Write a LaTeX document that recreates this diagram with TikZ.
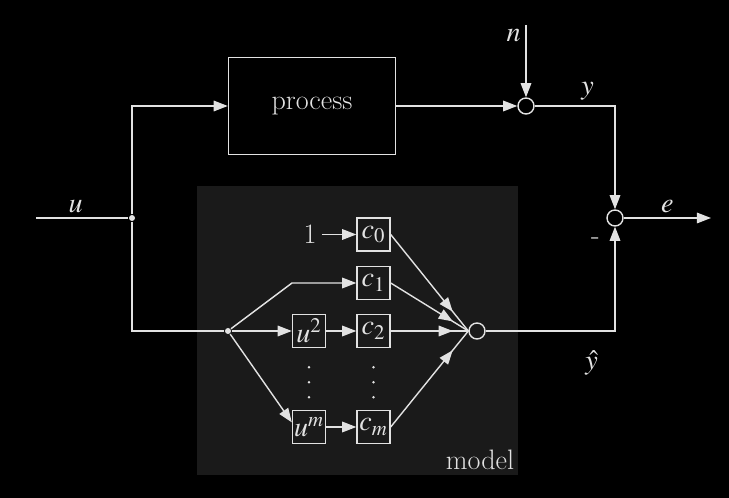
\documentclass[tikz,border=0pt]{standalone}
\usepackage{mathptmx}
\usetikzlibrary{arrows.meta,decorations.markings}
\definecolor{fg}{HTML}{E2E2E2}
\definecolor{modelbg}{HTML}{1A1A1A}
\tikzset{midarrow/.style={postaction={decorate},decoration={markings,mark=at position 0.8 with {\arrow{Triangle[length=10pt,width=7.5pt]}}}}}

\begin{document}
\begin{tikzpicture}[auto, color=fg, line width=1pt, font=\fontsize{20}{24}\selectfont, >={Triangle[length=10pt,width=7.5pt]}]
            \fill[black] (0,0) rectangle (18.225,12.45);
            \fill[modelbg] (4.925,0.575) rectangle (12.95,7.8);
            \node (modellbl) at (12.0,0.95) {model};
            \begin{scope}[every node/.style={rectangle,draw,minimum size=0.825cm,inner sep=0pt}]
                \node (process) at (7.8,9.8) [minimum width=4.175cm,minimum height=2.425cm] {process};
                \node (u2) at (7.725,4.175) {$u^2$};
                \node (um) at (7.725,1.775) {$u^m$};
                \node (c0) at (9.3375,6.5875) {$c_0$};
                \node (c1) at (9.3375,5.375) {$c_1$};
                \node (c2) at (9.3375,4.175) {$c_2$};
                \node (cm) at (9.3375,1.775) {$c_m$};
            \end{scope}
            \begin{scope}[every node/.style={circle,draw,minimum size=0.4cm,inner sep=0pt}]
                \node (sumy) at (13.15,9.8) {};
                \node (sume) at (15.375,7.0) {};
                \node (msum) at (11.925,4.175) {};
            \end{scope}
            \begin{scope}[every node/.style={circle,fill,minimum size=0.15cm,inner sep=0pt}]
                \node (jnc) at (3.3,7.0) {};
                \node (mjnc) at (5.7,4.175) {};
            \end{scope}
            \node (one) at (7.75,6.5875) {1};
            \coordinate (uin) at (0.9,7.0);
            \coordinate (nin) at (13.15,11.825);
            \coordinate (eout) at (17.775,7.0);
            \coordinate (bend) at (7.3,5.375);
            % loop and outer signals
            \draw (uin) -- node[pos=0.43]{$u$} (jnc);
            \draw[->] (jnc) |- (process);
            \draw (jnc) |- (mjnc);
            \draw[->] (process) -- (sumy);
            \draw[->] (nin) -- node[pos=0.15,swap]{$n$} (sumy);
            \draw[->] (sumy) -| node[pos=0.33]{$y$} (sume);
            \draw[->] (msum) -| node[pos=0.41,swap,yshift=-0.35cm]{$\hat{y}$} node[pos=0.93,xshift=-0.25cm]{-} (sume);
            \draw[->] (sume) -- node{$e$} (eout);
            % model
            \draw[->] (one) -- (c0);
            \draw[->] (mjnc) -- (bend) -- (c1);
            \draw[->] (mjnc) -- (u2);
            \draw[->] (u2) -- (c2);
            \draw[->] (mjnc) -- (um.165);
            \draw[->] (um) -- (cm);
            \draw[midarrow] (c0.east) -- (msum.west);
            \draw[midarrow] (c1.east) -- (msum.west);
            \draw[midarrow] (c2.east) -- (msum.west);
            \draw[midarrow] (cm.east) -- (msum.west);
            \foreach \k in {0,1,2} {
                \fill (u2.south) ++(0,-0.475-\k*0.375) circle (0.035);
                \fill (c2.south) ++(0,-0.475-\k*0.375) circle (0.035);
            }
        \end{tikzpicture}
\end{document}
